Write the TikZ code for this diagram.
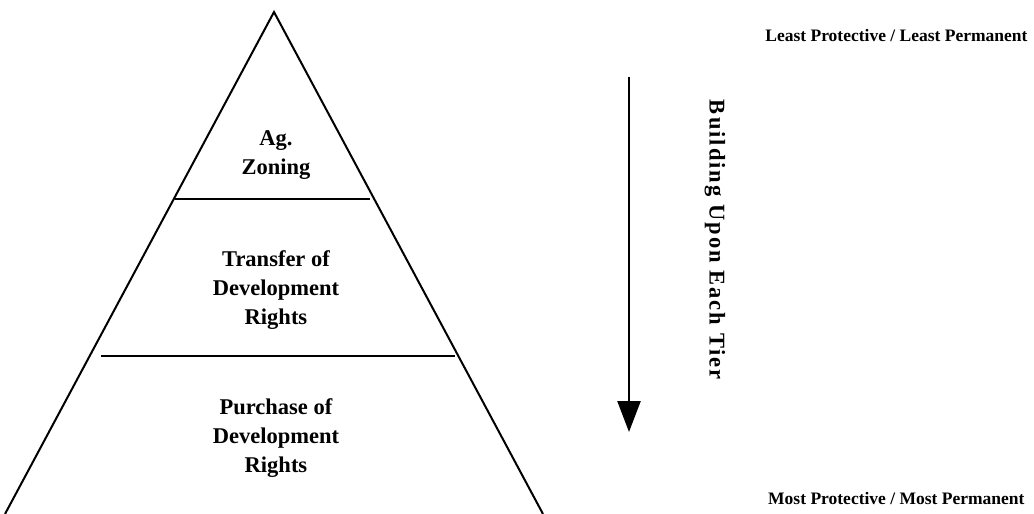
\documentclass[tikz,border=0pt]{standalone}
\usepackage{fontspec}
\setmainfont{Liberation Serif}
\newfontfamily\trackedfont[LetterSpace=9]{Liberation Serif}
\usetikzlibrary{arrows.meta}
\begin{document}
\begin{tikzpicture}
[x=1pt, y=-1pt,
 tier/.style={font=\bfseries\fontsize{22.5}{29}\selectfont, align=center},
 endlabel/.style={font=\bfseries\fontsize{17.5}{21}\selectfont, anchor=east}]
\useasboundingbox (0,0) rectangle (1034,514);
% pyramid
\draw [line width=2pt, line join=miter] (5,514) -- (274,12) -- (543,514);
\draw [line width=1.6pt] (175,199) -- (370,199);
\draw [line width=1.6pt] (101,356) -- (455,356);
\node [tier] (zoning) at (276,155) {Ag.\\Zoning};
\node [tier] (transfer) at (276,290) {Transfer of\\Development\\Rights};
\node [tier] (purchase) at (276,438) {Purchase of\\Development\\Rights};
% scale on the right
\node [endlabel] (least) at (1031,36) {Least Protective / Least Permanent};
\node [endlabel] (most) at (1028,499) {Most Protective / Most Permanent};
\coordinate (top) at (629,77);
\coordinate (tip) at (629,432);
\draw [line width=2.5pt, -{Triangle[width=23pt, length=31pt]}] (top) -- (tip);
\node [tier, font=\trackedfont\bfseries\fontsize{22.5}{29}\selectfont, rotate=-90] (tiers) at (715,240) {Building Upon Each Tier};
\end{tikzpicture}
\end{document}
